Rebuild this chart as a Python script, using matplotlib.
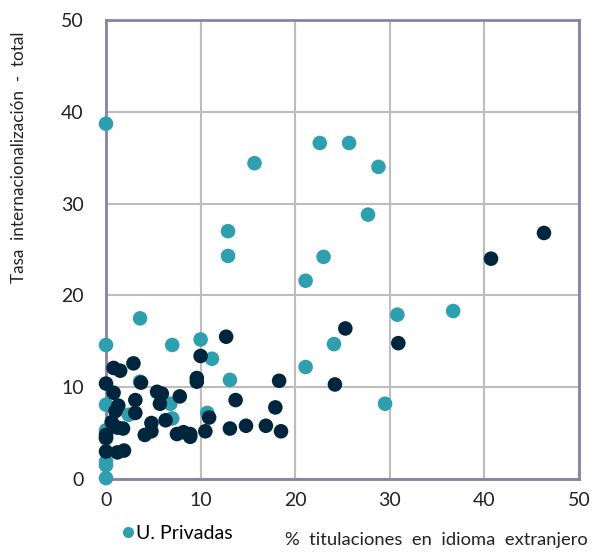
import matplotlib.pyplot as plt
from matplotlib.lines import Line2D

plt.rcParams['font.family'] = ['Lato', 'DejaVu Sans']

# U. Privadas (teal)
priv_x = [0, 0, 0, 0, 0, 0, 0, 0, 3.6, 7.0, 10.0, 11.2, 13.1, 7.0, 2.4, 6.8,
          3.6, 10.7, 21.1, 15.7, 22.6, 25.7, 28.8, 27.7, 12.9, 12.9, 23.0,
          21.1, 30.8, 36.7, 24.1, 29.5]
priv_y = [38.7, 14.6, 8.1, 5.3, 4.4, 1.9, 1.5, 0.1, 17.5, 14.6, 15.2, 13.1,
          10.8, 6.6, 7.0, 8.2, 10.6, 7.2, 12.2, 34.4, 36.6, 36.6, 34.0, 28.8,
          27.0, 24.3, 24.2, 21.6, 17.9, 18.3, 14.7, 8.2]

# U. Publicas (navy)
pub_x = [12.7, 10.0, 2.9, 0.8, 1.5, 0, 3.7, 9.6, 9.6, 18.3, 0.8, 5.4, 5.9,
         7.8, 3.1, 13.7, 5.7, 1.3, 1.0, 17.9, 3.1, 10.9, 6.3, 0.6, 4.8, 1.2,
         1.8, 4.8, 4.1, 0, 0, 7.5, 8.2, 8.9, 8.9, 10.5, 13.1, 14.8, 16.9,
         18.5, 0, 1.2, 1.9, 25.3, 30.9, 24.2, 40.7, 46.3]
pub_y = [15.5, 13.4, 12.6, 12.1, 11.8, 10.4, 10.5, 11.0, 10.6, 10.7, 9.4,
         9.5, 9.3, 9.0, 8.6, 8.6, 8.2, 8.0, 7.4, 7.8, 7.2, 6.7, 6.4, 6.2, 6.1,
         5.6, 5.5, 5.2, 4.8, 4.8, 4.5, 4.9, 5.1, 4.9, 4.6, 5.2, 5.5, 5.8, 5.8,
         5.2, 3.0, 2.9, 3.1, 16.4, 14.8, 10.3, 24.0, 26.8]

teal = '#2e9fae'
navy = '#00263e'
spine_col = '#8a80a3'

fig = plt.figure(figsize=(6.11, 5.52), dpi=100)
ax = fig.add_axes([0.1735, 0.1322, 0.7741, 0.8316])

ax.scatter(priv_x, priv_y, s=110, color=teal, edgecolors='none', clip_on=False, zorder=3)
ax.scatter(pub_x, pub_y, s=110, color=navy, edgecolors='none', clip_on=False, zorder=4)

ax.set_xlim(0, 50)
ax.set_ylim(0, 50)
ax.set_xticks([0, 10, 20, 30, 40, 50])
ax.set_yticks([0, 10, 20, 30, 40, 50])
ax.grid(True, color='#bdbdbd', linewidth=1.5)
ax.set_axisbelow(True)
for s in ax.spines.values():
    s.set_color(spine_col)
    s.set_linewidth(2)
ax.tick_params(length=0, labelsize=14, colors='#222222')
ax.tick_params(axis='y', pad=16)
ax.tick_params(axis='x', pad=9)

ax.set_ylabel('Tasa  internacionalización  -  total', fontsize=12.3, color='#222222')
ax.yaxis.set_label_coords(-0.166, 0.70)
fig.text(0.962, 0.008, '%  titulaciones  en  idioma  extranjero', ha='right', va='bottom',
         fontsize=13.2, color='#222222')

handle = Line2D([], [], marker='o', linestyle='none', color=teal, markersize=7)
fig.legend([handle], ['U. Privadas'], loc='center left', bbox_to_anchor=(0.175, 0.033),
           frameon=False, fontsize=14, handletextpad=-0.2, borderpad=0.0,
           handlelength=1.2)

plt.savefig('out.png', dpi=100)
